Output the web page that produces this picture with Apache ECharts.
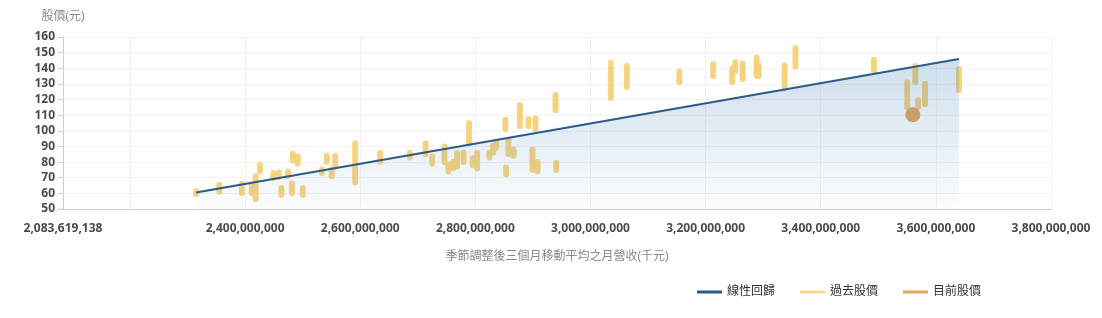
<!DOCTYPE html>
<html>
<head>
<meta charset="utf-8">
<script src="https://cdn.jsdelivr.net/npm/echarts@6/dist/echarts.min.js"></script>
<style>
html,body{margin:0;padding:0;background:#fff;}
#chart{width:1102px;height:318px;}
</style>
</head>
<body>
<div id="chart"></div>
<script>
// ---- data ----
const xAxisMin = 2083619138;
const xAxisMax = 3800000000;
const xLabelValues = [2083619138, 2400000000, 2600000000, 2800000000, 3000000000, 3200000000, 3400000000, 3600000000, 3800000000];
const xGridValues = [2200000000, 2400000000, 2600000000, 2800000000, 3000000000, 3200000000, 3400000000, 3600000000, 3800000000];
const yAxisTicks = [50, 60, 70, 80, 90, 100, 110, 120, 130, 140, 150, 160];

const regressionLine = [[2314852000, 60.5], [3640000000, 146]];

const pastRevenue = [
  2314852000, 2355210000, 2394180000, 2411530000, 2418260000, 2425740000, 2449120000, 2458390000,
  2463010000, 2474480000, 2481250000, 2482690000, 2491330000, 2500150000, 2533420000, 2542080000,
  2550310000, 2556470000, 2591220000, 2634580000, 2686130000, 2713470000, 2725060000, 2746290000,
  2753140000, 2761520000, 2768330000, 2779410000, 2789060000, 2795270000, 2803180000, 2824350000,
  2831060000, 2836420000, 2852170000, 2853390000, 2857480000, 2866210000, 2877350000, 2892140000,
  2899260000, 2904380000, 2908150000, 2939270000, 2940460000, 3035280000, 3063140000, 3154360000,
  3213280000, 3246150000, 3251370000, 3264220000, 3288410000, 3292160000, 3337280000, 3356090000,
  3492350000, 3550180000, 3564260000, 3569110000, 3581240000, 3640120000
];

const pastPrices = [
  [59.5, 60.5, 61.5],
  [61, 62.5, 64, 65.5],
  [60, 61.5, 63, 64.5, 66],
  [60, 61.5, 63, 64.5],
  [56, 57.5, 59, 60.5, 62, 63.5, 65, 66.5, 68, 69.5, 71],
  [74, 75.5, 77, 78.5],
  [70, 71.5, 73],
  [70.5, 72, 73.5],
  [59, 60.5, 62, 63.5],
  [71, 72.5, 74],
  [60, 61.5, 63, 64.5, 66.5],
  [81, 82.5, 84, 85.5],
  [79, 80.5, 82, 83.5],
  [59, 60.5, 62, 63.5],
  [73, 74.5, 75.5],
  [80, 81.5, 83, 84],
  [71, 72.5, 74, 75.5],
  [77, 78.5, 80, 81.5, 83, 84],
  [67, 68.5, 70, 71.5, 73, 74.5, 76, 77.5, 80, 81.5, 83, 84.5, 86, 87.5, 89, 90.5, 92],
  [80, 81.5, 83, 84.5, 86],
  [83, 84.5, 86],
  [85, 86.5, 88, 89.5, 91, 92],
  [79, 80.5, 82, 83.5],
  [80, 81.5, 83, 84.5, 86, 87.5, 89, 90],
  [74, 75.5, 77, 78.5],
  [76, 77.5, 79, 80],
  [77, 78.5, 80, 81.5, 83, 84.5, 86],
  [80, 81.5, 83, 84.5, 86],
  [92, 93.5, 95, 96.5, 98, 99.5, 101, 102.5, 104, 105],
  [78, 79.5, 81, 82.5],
  [76, 77.5, 79, 80.5, 82, 83.5, 85, 86],
  [83, 84.5, 86],
  [86, 87.5, 89, 90.5],
  [89, 90.5, 92, 93],
  [101, 102.5, 104, 105.5, 107],
  [72, 73.5, 75, 76.5],
  [85, 86.5, 88, 89.5, 91, 92.5, 94],
  [84, 85.5, 87, 88],
  [103, 104.5, 106, 107.5, 109, 110.5, 112, 113.5, 115, 116.5],
  [103, 104.5, 106, 107.5],
  [75, 76.5, 78, 79.5, 81, 82.5, 84, 85.5, 87, 88],
  [101, 102.5, 104, 105.5, 107, 108],
  [74, 75.5, 77, 78.5, 80],
  [113, 114.5, 116, 117.5, 119, 120.5, 122, 123],
  [75, 76.5, 78, 79.5],
  [121, 122.5, 124, 125.5, 127, 128.5, 130, 131.5, 133, 134.5, 136, 137.5, 139, 140.5, 143.5],
  [128, 129.5, 131, 132.5, 134, 135.5, 137, 138.5, 140, 141.5],
  [131, 132.5, 134, 135.5, 137, 138],
  [135, 136.5, 138, 139.5, 141, 142.5],
  [131, 132.5, 134, 135.5, 137, 138.5, 140],
  [138, 139.5, 141, 142.5, 144],
  [133, 134.5, 136, 137.5, 139, 140.5, 142, 143],
  [135, 136.5, 138, 139.5, 141, 142.5, 144, 145.5, 147],
  [135, 136.5, 138, 139.5, 141, 142],
  [127, 128.5, 130, 131.5, 133, 134.5, 136, 137.5, 139, 140.5, 142],
  [141, 142.5, 144, 145.5, 147, 148.5, 150, 151.5, 153],
  [138, 139.5, 141, 142.5, 144, 145.5],
  [115, 116.5, 118, 119.5, 122, 123.5, 125, 126.5, 128, 129.5, 131],
  [131, 132.5, 134, 135.5, 137, 138.5, 140, 141.5],
  [115, 116.5, 118, 119.5],
  [117, 118.5, 120, 121.5, 123, 124.5, 126, 127.5, 129, 130],
  [126, 127.5, 129, 130.5, 132, 133.5, 135, 136.5, 138, 139.5]
];

const currentRevenue = 3560000000;
const currentPrice = 110.3;

const seriesNames = ['線性回歸', '過去股價', '目前股價'];
const xAxisTitle = '季節調整後三個月移動平均之月營收(千元)';
const yAxisTitle = '股價(元)';

// ---- build ----
const pastPoints = [];
pastRevenue.forEach((rev, i) => {
  pastPrices[i].forEach(p => pastPoints.push([rev, p]));
});

const fontFamily = "'Noto Sans', 'Noto Sans CJK TC', sans-serif";
const chart = echarts.init(document.getElementById('chart'), null, {renderer: 'canvas'});
chart.setOption({
  animation: false,
  backgroundColor: '#ffffff',
  textStyle: {fontFamily: fontFamily},
  grid: {left: 63, right: 51, top: 37, bottom: 109, containLabel: false},
  legend: {
    left: 697, top: 286, padding: 0,
    itemWidth: 25, itemHeight: 3, itemGap: 25,
    icon: 'rect',
    textStyle: {color: '#333', fontSize: 12, fontFamily: fontFamily},
    data: seriesNames
  },
  xAxis: {
    type: 'value',
    min: xAxisMin, max: xAxisMax,
    name: xAxisTitle, nameLocation: 'middle', nameGap: 42,
    nameTextStyle: {color: '#888', fontSize: 12},
    axisLine: {show: true, lineStyle: {color: '#ccc'}},
    axisTick: {show: false, customValues: xGridValues},
    axisLabel: {
      show: true, customValues: xLabelValues,
      color: '#4a4a4a', fontWeight: 'bold', fontSize: 12, margin: 14,
      formatter: v => Math.round(v).toLocaleString('en-US')
    },
    splitLine: {show: true, lineStyle: {color: '#f2f2f2'}}
  },
  yAxis: {
    type: 'value',
    min: yAxisTicks[0], max: yAxisTicks[yAxisTicks.length - 1], interval: 10,
    name: yAxisTitle, nameLocation: 'end', nameGap: 14,
    nameTextStyle: {color: '#888', fontSize: 12},
    axisLine: {show: true, lineStyle: {color: '#ccc'}},
    axisTick: {show: true, length: 5, lineStyle: {color: '#ccc'}},
    axisLabel: {color: '#4a4a4a', fontWeight: 'bold', fontSize: 12, margin: 8},
    splitLine: {show: true, lineStyle: {color: '#f2f2f2'}}
  },
  series: [
    {
      name: seriesNames[1], type: 'scatter', z: 1,
      symbol: 'circle', symbolSize: 6,
      itemStyle: {color: '#f6d27c', opacity: 0.9},
      data: pastPoints
    },
    {
      name: seriesNames[2], type: 'scatter', z: 1,
      symbol: 'circle', symbolSize: 15,
      itemStyle: {color: '#e6a050', opacity: 0.95},
      data: [[currentRevenue, currentPrice]]
    },
    {
      name: seriesNames[0], type: 'line', z: 3,
      showSymbol: false, symbol: 'none',
      lineStyle: {color: '#2d5b87', width: 2},
      itemStyle: {color: '#2d5b87'},
      areaStyle: {
        color: new echarts.graphic.LinearGradient(0, 0, 0, 1, [
          {offset: 0, color: 'rgba(60,125,180,0.36)'},
          {offset: 1, color: 'rgba(60,125,180,0.03)'}
        ])
      },
      data: regressionLine
    }
  ]
});
</script>
</body>
</html>
